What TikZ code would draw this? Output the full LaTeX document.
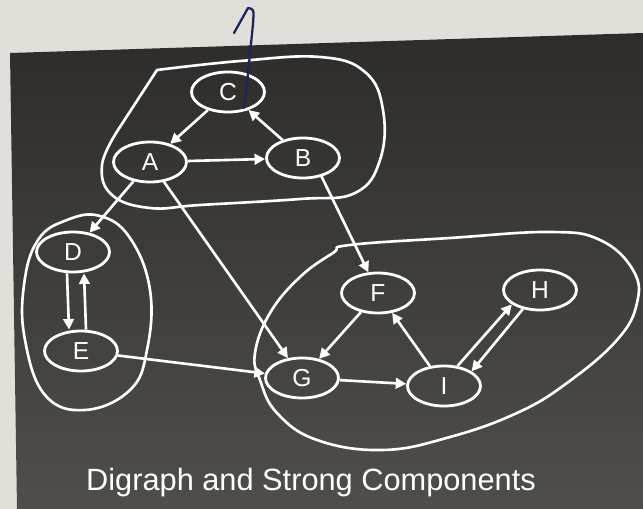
\documentclass[tikz,border=0pt]{standalone}
\usepackage{fontspec}
\setmainfont{Liberation Sans}
\usetikzlibrary{shapes.geometric,arrows.meta,positioning}

\definecolor{papier}{RGB}{226,223,219}
\definecolor{ardoisehaut}{RGB}{46,44,42}
\definecolor{ardoisebas}{RGB}{80,78,75}
\definecolor{encre}{RGB}{28,36,90}

\begin{document}
\begin{tikzpicture}[
    vertex/.style={draw=white, ellipse, line width=1.6pt, minimum width=1.46cm, minimum height=0.8cm, inner sep=0pt, text=white, font=\fontsize{14}{16}\selectfont},
    edge/.style={draw=white, line width=1.5pt, -{Triangle[length=6pt,width=6pt]}},
    comp/.style={draw=white, line width=1.5pt}
]
    % Fond : feuille et diapositive
    \useasboundingbox (0,0) rectangle (12.86,10.18);
    \fill[papier] (0,0) rectangle (12.86,10.18);
    \shade[top color=ardoisehaut, bottom color=ardoisebas] (0.2,9.12) -- (12.86,9.52) -- (12.86,0) -- (0.34,0) -- cycle;

    % Composantes fortement connexes
    \draw[comp] plot[smooth, tension=0.7] coordinates {(3.14,8.78) (4.80,8.96) (6.40,9.04) (7.30,8.74) (7.66,7.98) (7.60,6.98) (7.10,6.32) (6.00,6.20) (4.00,6.08) (3.00,6.02) (2.24,6.28) (2.04,6.88) (2.36,7.58)} -- cycle;
    \draw[comp] plot[smooth cycle, tension=0.7] coordinates {(1.34,5.78) (2.00,5.86) (2.60,5.42) (3.00,4.38) (2.94,3.18) (2.60,2.38) (1.70,1.98) (0.90,2.28) (0.50,3.38) (0.48,4.48) (0.76,5.38)};
    \draw[comp] plot[smooth cycle, tension=0.7] coordinates {(7.00,5.28) (9.00,5.42) (11.00,5.54) (12.00,5.38) (12.66,4.78) (12.74,4.12) (12.34,3.38) (11.34,2.52) (10.34,1.92) (9.00,1.44) (7.66,1.18) (6.34,1.38) (5.54,1.92) (5.20,2.58) (5.10,3.12) (5.40,3.92) (6.00,4.64) (6.66,5.12)};

    % Sommets
    \node[vertex] (C) at (4.56,8.34) {C};
    \node[vertex] (A) at (3.00,6.94) {A};
    \node[vertex] (B) at (6.06,7.02) {B};
    \node[vertex] (D) at (1.46,5.14) {D};
    \node[vertex] (E) at (1.62,3.16) {E};
    \node[vertex] (F) at (7.56,4.32) {F};
    \node[vertex] (H) at (10.80,4.38) {H};
    \node[vertex] (G) at (6.04,2.62) {G};
    \node[vertex] (I) at (8.88,2.46) {I};

    % Arcs
    \draw[edge] (C) -- (A);
    \draw[edge] (B) -- (C);
    \draw[edge] (A) -- (B);
    \draw[edge] (A) -- (D);
    \draw[edge] (A) -- (G);
    \draw[edge] (B.-45) -- (F.115);
    \draw[edge] ([xshift=-0.12cm]D.south) -- ([xshift=-0.24cm]E.north);
    \draw[edge] ([xshift=0.1cm]E.north) -- ([xshift=0.22cm]D.south);
    \draw[edge] (E) -- (G);
    \draw[edge] (F) -- (G);
    \draw[edge] (G) -- (I);
    \draw[edge] (I) -- (F);
    \draw[edge] (I.56) -- (H.207);
    \draw[edge] (H.228) -- (I.28);

    % Titre
    \node[text=white, font=\fontsize{17.5}{20}\selectfont] (titre) at (6.22,0.52) {Digraph and Strong Components};

    % Trait au stylo
    \draw[encre, line width=1.3pt, line cap=round, line join=round] (4.68,9.52) -- (4.96,10.02) .. controls (5.08,10.0) .. (5.06,9.7) -- (4.96,8.70) -- (4.88,8.02);
\end{tikzpicture}
\end{document}
